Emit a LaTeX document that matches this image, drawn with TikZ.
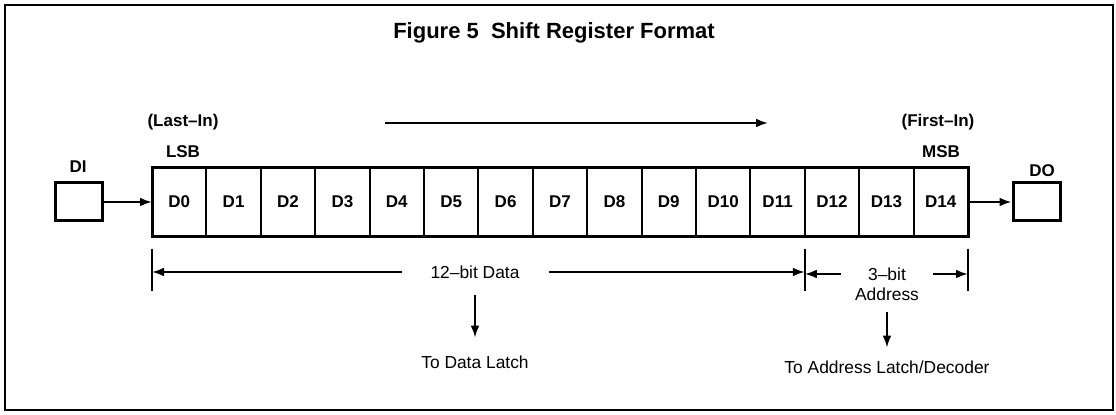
\documentclass[tikz,border=0pt]{standalone}
\usepackage{fontspec}
\setmainfont{Liberation Sans}
\usetikzlibrary{positioning}
\usetikzlibrary{arrows.meta}

\newcommand{\titlefont}{\bfseries\fontsize{11}{13}\selectfont}
\newcommand{\regfont}{\bfseries\fontsize{8.5}{10}\selectfont}
\newcommand{\notefont}{\fontsize{8.7}{10.4}\selectfont}

\begin{document}
\begin{tikzpicture}[x=0.5pt,y=-0.5pt,>={Latex[length=6pt,width=4.4pt]},line width=1pt,
                cell/.style={draw,line width=1pt,minimum width=27.2pt,minimum height=34.75pt,
                             inner sep=0pt,outer sep=0pt,font=\regfont},
                pin box/.style={draw,line width=1.5pt,minimum width=23.5pt,minimum height=19pt,inner sep=0pt},
                tag/.style={font=\regfont,inner sep=1pt},
                note/.style={font=\notefont,inner sep=1pt}]

  \useasboundingbox (0,0) rectangle (1116,415);
  \draw[line width=1pt] (5,5) rectangle (1113,410);

  \node[font=\titlefont] (title) at (554,33) {Figure 5\ \ Shift Register Format};

  % register cells D0 ... D14
  \node[cell] (c0) at (179.2,202) {D0};
  \foreach \i [remember=\i as \p (initially 0)] in {1,...,14}
    \node[cell,right=0pt of c\p] (c\i) {D\i};
  \draw[line width=1.5pt] (c0.north west) rectangle (c14.south east);

  % input and output pins
  \node[pin box] (di) at (78.5,202) {};
  \node[pin box] (do) at (1036.5,202) {};
  \node[tag] (dilabel) at (78,167) {DI};
  \node[tag] (dolabel) at (1042,171) {DO};

  \node[tag] (lastin) at (183,122) {(Last--In)};
  \node[tag] (lsb) at (183,152) {LSB};
  \node[tag] (firstin) at (938,122) {(First--In)};
  \node[tag] (msb) at (941,152) {MSB};

  \coordinate (shiftL) at (385,123);
  \coordinate (shiftR) at (768,123);

  \path[->]
    (di) edge (c0)
    (c14) edge (do)
    (shiftL) edge (shiftR);

  % field widths
  \foreach \c/\a in {c0/south west,c11/south east,c14/south east}
    \draw[line width=1pt] (\c.\a) ++(0,12) -- ++(0,42);

  \node[note,inner xsep=14pt] (data) at (475,272) {12--bit Data};
  \node[note,inner xsep=13pt] (bits) at (887,274) {3--bit};
  \node[note,below=1pt of bits] (addr) {Address};

  \draw[->] (data.west) -- (data.west -| c0.south west);
  \draw[->] (data.east) -- (data.east -| c11.south east);
  \draw[->] (bits.west) -- (bits.west -| c11.south east);
  \draw[->] (bits.east) -- (bits.east -| c14.south east);

  \node[note] (tolatch) at (475,362) {To Data Latch};
  \node[note] (toaddr) at (887,367) {To Address Latch/Decoder};

  \draw[->,shorten <=7pt,shorten >=7.5pt] (data) -- (tolatch);
  \draw[->,shorten <=4pt,shorten >=5pt] (addr) -- (toaddr);

\end{tikzpicture}
\end{document}
